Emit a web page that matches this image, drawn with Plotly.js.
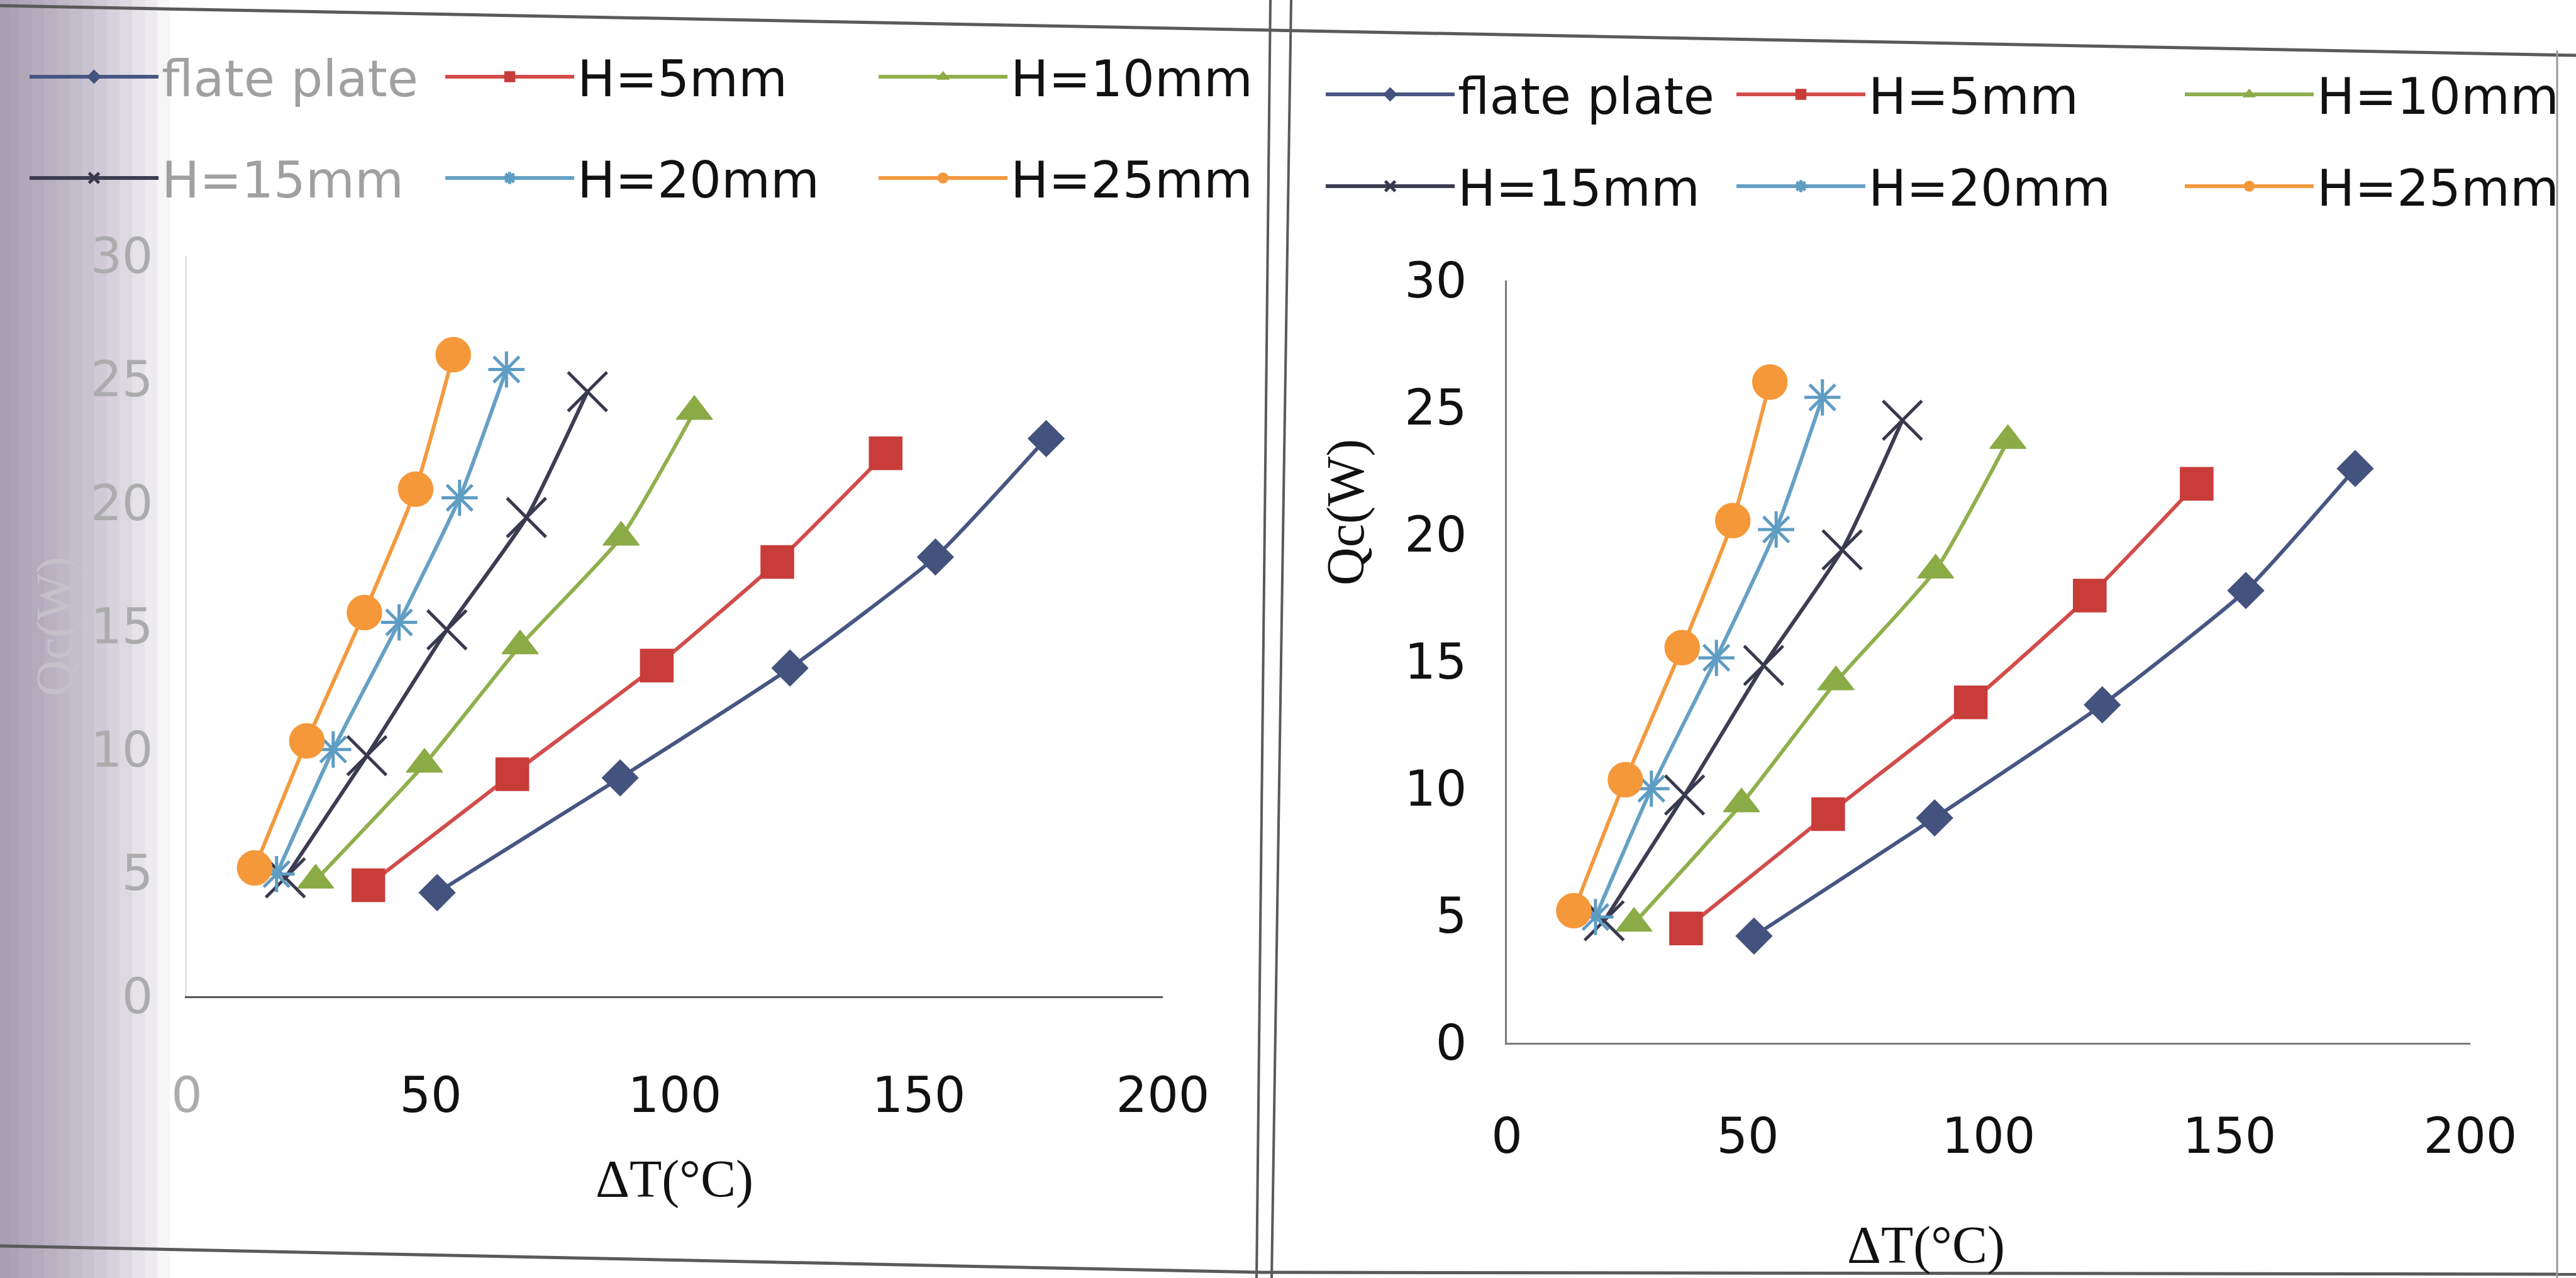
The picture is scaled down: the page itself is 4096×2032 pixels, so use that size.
<!DOCTYPE html>
<html>
<head>
<meta charset="utf-8">
<script src="https://cdn.plot.ly/plotly-3.0.1.min.js"></script>
<style>html,body{margin:0;padding:0;background:#fff;}#chart{width:4096px;height:2032px;}</style>
</head>
<body>
<div id="chart"></div>
<script>
// ---- data ----
const seriesNames = ['flate plate', 'H=5mm', 'H=10mm', 'H=15mm', 'H=20mm', 'H=25mm'];
const dT_flat = [51.3, 88.8, 123.6, 153.4, 176.1];
const Qc_flat = [4.2, 8.85, 13.3, 17.8, 22.6];
const dT_H5 = [37.2, 66.7, 96.3, 121, 143.2];
const Qc_H5 = [4.5, 9.0, 13.4, 17.6, 22.0];
const dT_H10 = [26.4, 48.7, 68.3, 89, 104];
const Qc_H10 = [4.7, 9.4, 14.2, 18.6, 23.7];
const dT_H15 = [20.2, 36.9, 53.3, 69.6, 82.1];
const Qc_H15 = [4.8, 9.75, 14.85, 19.4, 24.5];
const dT_H20 = [18.4, 30, 43.5, 55.9, 65.5];
const Qc_H20 = [4.95, 10.0, 15.15, 20.2, 25.4];
const dT_H25 = [13.9, 24.6, 36.4, 46.9, 54.6];
const Qc_H25 = [5.2, 10.35, 15.55, 20.55, 26.0];
const xTickVals = [0, 50, 100, 150, 200];
const xTickText = ['0', '50', '100', '150', '200'];
const yTickVals = [0, 5, 10, 15, 20, 25, 30];
const yTickText = ['0', '5', '10', '15', '20', '25', '30'];
const xTitle = 'ΔT(°C)';
const yTitle = 'Qc(W)';

// ---- styles ----
const W = 4096, H = 2032;
const px = v => v / W;
const py = v => 1 - v / H;
const allX = [dT_flat, dT_H5, dT_H10, dT_H15, dT_H20, dT_H25];
const allY = [Qc_flat, Qc_H5, Qc_H10, Qc_H15, Qc_H20, Qc_H25];
const lineColors = ['#475683', '#d24c4a', '#8fb04c', '#3c3c52', '#66a0c4', '#f39a3e'];
const markerColors = ['#44527e', '#c83c3a', '#8aab45', '#38384e', '#5e9cc4', '#f5983a'];
const symbols = ['diamond', 'square', 'triangle-up', 'x-thin-open', 'asterisk-open', 'circle'];
const sizes = [44, 52, 50, 62, 48, 55];

const legendCols = {left: [42, 703, 1392], right: [2103, 2756, 3469]};
const legendRows = {left: [122, 283], right: [150, 296]};

const traces = [];
const layout = {
  width: W, height: H,
  margin: {l: 0, r: 0, t: 0, b: 0},
  paper_bgcolor: '#ffffff',
  plot_bgcolor: 'rgba(0,0,0,0)',
  showlegend: true,
  shapes: [], annotations: []
};

function addPanel(side, xa, ya, legBase) {
  for (let i = 0; i < 6; i++) {
    const n = legBase + i;
    const legId = n === 1 ? 'legend' : 'legend' + n;
    const isLine = symbols[i].indexOf('open') >= 0;
    traces.push({
      type: 'scatter', mode: 'lines+markers', name: seriesNames[i],
      x: allX[i], y: allY[i], xaxis: xa, yaxis: ya, legend: legId,
      line: {color: lineColors[i], width: 6, shape: 'spline', smoothing: 0.5},
      marker: {symbol: symbols[i], size: sizes[i], color: markerColors[i],
               line: {color: markerColors[i], width: isLine ? 5 : 1.5}}
    });
    const col = i % 3, row = Math.floor(i / 3);
    const grey = side === 'left' && col === 0;
    layout[legId] = {
      x: px(legendCols[side][col]), y: py(legendRows[side][row]),
      xanchor: 'left', yanchor: 'middle', orientation: 'v',
      bgcolor: 'rgba(0,0,0,0)', borderwidth: 0, itemwidth: 205,
      font: {family: 'DejaVu Sans', size: 80, color: grey ? '#a0a0a0' : '#111111'},
      itemclick: false, itemdoubleclick: false
    };
  }
}
addPanel('left', 'x', 'y', 1);
addPanel('right', 'x2', 'y2', 7);

const tickFont = {family: 'DejaVu Sans', size: 78, color: '#111111'};
const greySpan = t => '<span style="color:#acacac">' + t + '</span>';

layout.xaxis = {domain: [px(297), px(1849)], range: [0, 200], anchor: 'y',
  tickmode: 'array', tickvals: xTickVals, ticktext: xTickText.map((t, i) => i === 0 ? greySpan(t) : t),
  showline: true, linecolor: '#555555', linewidth: 3, showgrid: false, zeroline: false,
  ticks: '', tickfont: tickFont, ticklabelstandoff: 87};
layout.yaxis = {domain: [py(1584), py(407)], range: [0, 30], anchor: 'x',
  tickmode: 'array', tickvals: yTickVals, ticktext: yTickText.map(greySpan),
  showline: true, linecolor: '#e4e4e4', linewidth: 3, showgrid: false, zeroline: false,
  ticks: '', tickfont: tickFont, ticklabelstandoff: 35};
layout.xaxis2 = {domain: [px(2396), px(3928)], range: [0, 200], anchor: 'y2',
  tickmode: 'array', tickvals: xTickVals, ticktext: xTickText,
  showline: true, linecolor: '#7a7a7a', linewidth: 3, showgrid: false, zeroline: false,
  ticks: '', tickfont: tickFont, ticklabelstandoff: 78};
layout.yaxis2 = {domain: [py(1658), py(446)], range: [0, 30], anchor: 'x2',
  tickmode: 'array', tickvals: yTickVals, ticktext: yTickText,
  showline: true, linecolor: '#7a7a7a', linewidth: 3, showgrid: false, zeroline: false,
  ticks: '', tickfont: tickFont, ticklabelstandoff: 45};

// axis titles
const serif = {family: 'Liberation Serif', size: 84, color: '#111111'};
layout.annotations.push(
  {text: xTitle, xref: 'paper', yref: 'paper', x: px(1072), y: py(1875), showarrow: false,
   xanchor: 'center', yanchor: 'middle', font: serif},
  {text: yTitle, xref: 'paper', yref: 'paper', x: px(86), y: py(996), showarrow: false, textangle: -90,
   xanchor: 'center', yanchor: 'middle', font: {family: 'Liberation Serif', size: 80, color: '#c4c1c8'}},
  {text: xTitle, xref: 'paper', yref: 'paper', x: px(3062), y: py(1980), showarrow: false,
   xanchor: 'center', yanchor: 'middle', font: serif},
  {text: yTitle, xref: 'paper', yref: 'paper', x: px(2140), y: py(815), showarrow: false, textangle: -90,
   xanchor: 'center', yanchor: 'middle', font: serif}
);

// page artefacts: gutter shadow and frame lines
const shadowSteps = [270, 250, 230, 210, 190, 170, 150, 130, 110, 90, 70, 50, 30, 15];
shadowSteps.forEach(w => layout.shapes.push({type: 'rect', xref: 'paper', yref: 'paper',
  x0: 0, x1: px(w), y0: 0, y1: 1, line: {width: 0}, fillcolor: 'rgba(120,112,130,0.065)', layer: 'below'}));
const frame = [
  [0, 9, 4096, 88, 5, '#5a5a5a'], [0, 1981, 2006, 2023, 5, '#5a5a5a'], [2006, 2023, 4096, 2026, 5, '#5a5a5a'],
  [2020, 0, 1998, 2032, 4, '#5a5a5a'], [2053, 0, 2022, 2032, 4, '#5a5a5a'], [4066, 80, 4066, 2032, 3, '#9a9a9a']
];
frame.forEach(f => layout.shapes.push({type: 'line', xref: 'paper', yref: 'paper',
  x0: px(f[0]), y0: py(f[1]), x1: px(f[2]), y1: py(f[3]), line: {color: f[5], width: f[4]}}));

Plotly.newPlot('chart', traces, layout, {staticPlot: true, displayModeBar: false});
</script>
</body>
</html>
